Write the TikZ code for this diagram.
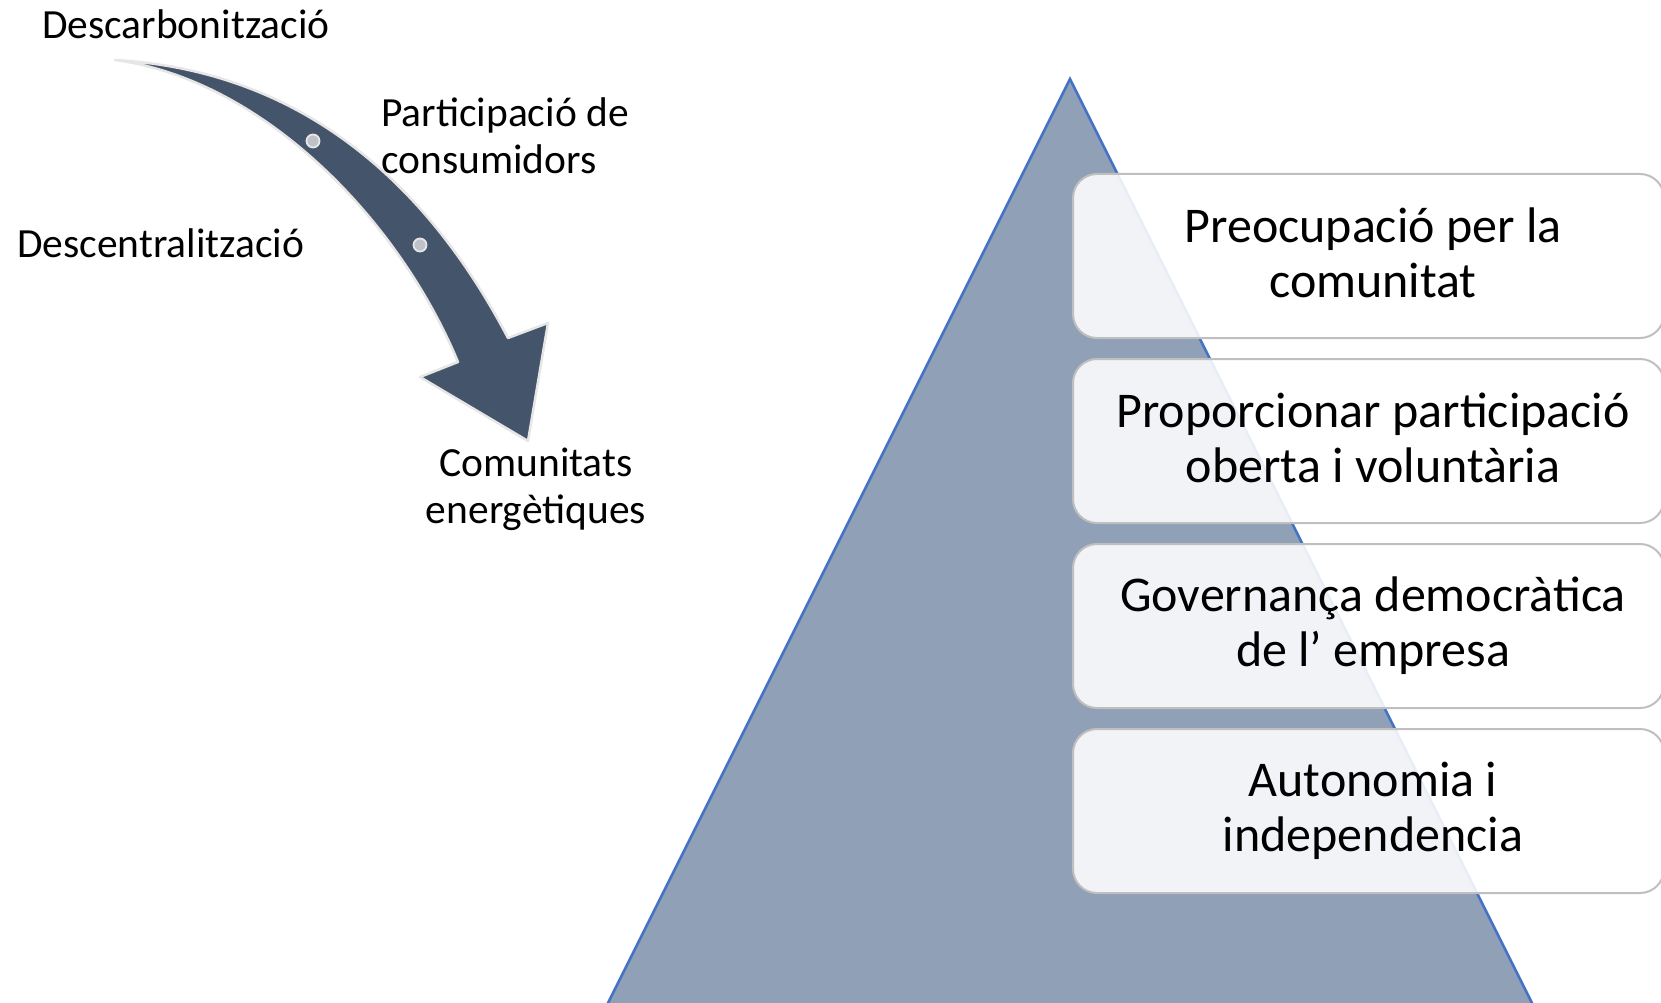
\documentclass[tikz,border=0pt]{standalone}
\usepackage{fontspec}
\setmainfont{Carlito}
\definecolor{pyrfill}{RGB}{143,160,183}
\definecolor{pyredge}{RGB}{68,114,196}
\definecolor{boxgray}{RGB}{191,191,191}
\definecolor{arrfill}{RGB}{68,84,106}
\definecolor{arredge}{RGB}{231,230,230}
\definecolor{dotfill}{RGB}{190,193,199}
\begin{document}
\begin{tikzpicture}[x=1pt,y=-1pt,
  lbl/.style={font=\fontsize{41.5}{47}\selectfont, inner sep=0pt, text=black},
  pbox/.style={draw=boxgray, line width=2pt, fill=white, fill opacity=0.88,
    rounded corners=24pt, anchor=north west, minimum width=591pt, minimum height=164pt,
    inner sep=0pt},
  boxtxt/.style={inner sep=0pt, align=center, font=\fontsize{50}{55}\selectfont, text=black},
  dotmark/.style={fill=dotfill, draw=arredge, line width=1.8pt},
]
\useasboundingbox (0,0) rectangle (1661,1003);
\clip (0,0) rectangle (1661,1003);
% pyramid
\coordinate (apex) at (1070,79);
\coordinate (bl) at (603,1013);
\coordinate (br) at (1537,1013);
\filldraw[fill=pyrfill, draw=pyredge, line width=2.5pt] (bl) -- (apex) -- (br) -- cycle;
% boxes
\node[pbox] (b1) at (1072,173) {};
\node[pbox] (b2) at (1072,358) {};
\node[pbox] (b3) at (1072,543) {};
\node[pbox] (b4) at (1072,728) {};
\node[boxtxt] (t1) at ([xshift=4.5pt,yshift=3pt]b1.center) {Preocupació per la\\comunitat};
\node[boxtxt] (t2) at ([xshift=4.5pt,yshift=3pt]b2.center) {Proporcionar participació\\oberta i voluntària};
\node[boxtxt] (t3) at ([xshift=4.5pt]b3.center) {Governança democràtica\\de l’ empresa};
\node[boxtxt] (t4) at ([xshift=4.5pt]b4.center) {Autonomia i\\independencia};
% curved arrow
\coordinate (tail) at (115,60);
\coordinate (jr) at (508,338);
\coordinate (barbr) at (548,323);
\coordinate (tip) at (528,441);
\coordinate (barbl) at (420,377);
\coordinate (jl) at (458,362);
\filldraw[fill=arrfill, draw=arredge, line width=2.5pt, line join=round]
  (tail) .. controls (290,70) and (420,170) .. (jr)
  -- (barbr) -- (tip) -- (barbl) -- (jl)
  .. controls (400,222) and (265,80) .. (tail)
  -- cycle;
\coordinate (d1) at (313,141);
\coordinate (d2) at (420,245);
\filldraw[dotmark] (d1) circle (6.5pt);
\filldraw[dotmark] (d2) circle (6.5pt);
% labels
\node[lbl, anchor=base west] (l1) at (42,39) {Descarbonització};
\node[lbl, anchor=west, align=left] (l2) at (381,136) {Participació de\\consumidors};
\node[lbl, anchor=base west] (l3) at (17,257) {Descentralització};
\node[lbl, align=center] (l4) at (536,489) {Comunitats\\energètiques};
\end{tikzpicture}
\end{document}
